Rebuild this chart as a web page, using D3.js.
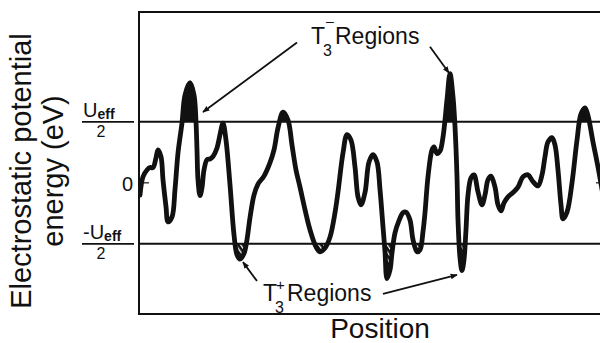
<!DOCTYPE html>
<html><head><meta charset="utf-8">
<script src="https://cdn.jsdelivr.net/npm/d3@7"></script>
<style>html,body{margin:0;padding:0;background:#fff}svg{display:block}text{font-family:"Liberation Sans",Arial,sans-serif;fill:#111}</style>
</head><body><svg id="c" width="600" height="343"></svg>
<script>
// Position (arbitrary units) and electrostatic potential energy (units of Ueff/2)
const position = [0.5,2,4,5.5,7,8.5,9.5,11,12,13.5,14.5,16.5,18,19.5,21.5,23,25.5,27.5,28.5,29,29.5,30.5,31.5,32.5,34,35.5,37,39,40.5,42,43.5,45.5,47.5,49,50.5,52.5,54,55.5,57.5,59.5,62.5,65.5,67.5,69.5,72,74.5,76.5,78.5,80.5,83,85.5,88.5,90.5,93,95.5,98,99.5,102,104,106,108,109.5,111,113,115,117,119,120.5,122,123,124,125.5,126.5,128,130,132,133.5,135.5,137,139,140.5,142,143,144.5,146.5,147.5,149,150.5,152,154,155.5,157,158,159,159.5,160.5,161.5,162.5,163.5,164.5,166,167.5,169.5,171.5,173,174.5,176,178,179.5,181,182.5,184.5,187,189.5,192,194.5,197,199.5,201.5,203,204.5,206.5,208,209.5,211,212,214,216.5,219,221,223,224.5,227,229.5,232];
const energy = [-0.20,0.10,0.21,0.25,0.25,0.41,0.54,0.43,0.05,-0.39,-0.64,-0.56,-0.11,0.49,0.98,1.44,1.64,1.44,1.00,0.54,0.05,-0.21,-0.08,0.21,0.38,0.39,0.43,0.57,0.79,0.98,0.70,-0.03,-0.85,-1.18,-1.25,-1.16,-0.93,-0.57,-0.20,-0.02,0.11,0.33,0.54,0.90,1.16,1.03,0.62,0.21,-0.07,-0.44,-0.77,-1.05,-1.13,-1.07,-0.89,-0.49,-0.15,0.49,0.79,0.70,0.26,-0.23,-0.36,-0.16,0.34,0.46,0.34,-0.11,-0.72,-1.13,-1.57,-1.43,-1.15,-0.82,-0.62,-0.49,-0.48,-0.61,-0.93,-1.13,-1.10,-0.80,-0.49,0.10,0.54,0.59,0.48,0.52,0.75,1.36,1.79,1.41,0.92,0.10,-0.61,-1.23,-1.44,-1.26,-0.77,-0.20,0.08,0.13,-0.15,-0.36,-0.20,0.05,0.11,-0.07,-0.36,-0.46,-0.33,-0.23,-0.16,-0.07,0.10,0.13,0.02,-0.05,0.13,0.43,0.67,0.74,0.62,0.21,-0.36,-0.59,-0.48,0.00,0.70,1.13,1.23,1.10,0.67,0.26,-0.20];
const levels = [1, 0, -1];               // Ueff/2, 0, -Ueff/2
const xDomain = [0, 230.5];
const yDomain = [-2.15, 2.80];
// annotation arrows: [fromPos, fromE, toPos, toE]
const arrowsMinus = [[79,2.30,32,1.16],[145.5,2.23,155,1.80]];
const arrowsPlus  = [[59,-1.61,52,-1.30],[122,-1.82,159,-1.51]];
const labelMinus = [86, 2.28];
const labelPlus  = [62, -1.93];

const data = position.map((p,i)=>({x:p,y:energy[i]}));
const svg = d3.select('#c');
const W = 600;
const x = d3.scaleLinear().domain(xDomain).range([139, 600]);
const y = d3.scaleLinear().domain(yDomain).range([314, 12]);

const defs = svg.append('defs');
const pat = defs.append('pattern').attr('id','hatch').attr('patternUnits','userSpaceOnUse')
  .attr('width',4).attr('height',4).attr('patternTransform','rotate(-35)');
pat.append('rect').attr('width',4).attr('height',4).attr('fill','#111');
pat.append('rect').attr('x',0).attr('y',0).attr('width',1.3).attr('height',4).attr('fill','#fff');
defs.append('clipPath').attr('id','above').append('rect')
  .attr('x',x(xDomain[0])).attr('y',0).attr('width',W).attr('height',y(1));
defs.append('clipPath').attr('id','below').append('rect')
  .attr('x',x(xDomain[0])).attr('y',y(-1)).attr('width',W).attr('height',343-y(-1));
defs.append('clipPath').attr('id','plot').append('rect')
  .attr('x',x(xDomain[0])).attr('y',y(yDomain[1])).attr('width',W).attr('height',y(yDomain[0])-y(yDomain[1]));

const curve = d3.curveCatmullRom.alpha(0.5);
// filled T3- regions
svg.append('path').datum(data).attr('clip-path','url(#above)')
  .attr('d', d3.area().x(d=>x(d.x)).y0(y(1)).y1(d=>y(d.y)).curve(curve))
  .attr('fill','#111');
// hatched T3+ regions
svg.append('path').datum(data).attr('clip-path','url(#below)')
  .attr('d', d3.area().x(d=>x(d.x)).y0(y(-1)).y1(d=>y(d.y)).curve(curve))
  .attr('fill','url(#hatch)');

// level lines
[1,-1].forEach(l=>{
  svg.append('line').attr('x1',x(xDomain[0])).attr('x2',W+5).attr('y1',y(l)).attr('y2',y(l))
    .attr('stroke','#111').attr('stroke-width',2);
  svg.append('line').attr('x1',82).attr('x2',134).attr('y1',y(l)).attr('y2',y(l))
    .attr('stroke','#111').attr('stroke-width',1.8);
});
// zero ticks
svg.append('line').attr('x1',x(xDomain[0])).attr('x2',x(xDomain[0])+10).attr('y1',y(0)).attr('y2',y(0)).attr('stroke','#111').attr('stroke-width',1.2);
svg.append('line').attr('x1',596).attr('x2',606).attr('y1',y(0)).attr('y2',y(0)).attr('stroke','#111').attr('stroke-width',1.2);

// curve
svg.append('path').datum(data).attr('clip-path','url(#plot)')
  .attr('d', d3.line().x(d=>x(d.x)).y(d=>y(d.y)).curve(curve))
  .attr('fill','none').attr('stroke','#111').attr('stroke-width',4.8)
  .attr('stroke-linejoin','round').attr('stroke-linecap','round');

// frame
svg.append('path').attr('d',`M${W+5},${y(yDomain[1])}H${x(xDomain[0])}V${y(yDomain[0])}H${W+5}`)
  .attr('fill','none').attr('stroke','#111').attr('stroke-width',2);

// y tick labels
const tl = svg.append('g');
function ueff(g, base, neg){
  const t = g.append('text').attr('x',83).attr('y',base).attr('font-size',20);
  t.append('tspan').text(neg?'-U':'U');
  t.append('tspan').attr('font-size',14).attr('font-weight','bold').attr('dy',2).text('eff');
  g.append('text').attr('x',101).attr('y',base+20).attr('font-size',16).attr('text-anchor','middle').text('2');
}
ueff(tl, y(1)-5, false);
ueff(tl, y(-1)-5, true);
tl.append('text').attr('x',133).attr('y',y(0)+8).attr('font-size',20).attr('text-anchor','end').text('0');

// axis titles
const yt = svg.append('text').attr('transform','translate(31,171) rotate(-90)').attr('text-anchor','middle').attr('font-size',29);
yt.append('tspan').attr('x',0).attr('y',0).text('Electrostatic potential');
yt.append('tspan').attr('x',0).attr('y',32).text('energy (eV)');
svg.append('text').attr('x',380).attr('y',338).attr('text-anchor','middle').attr('font-size',28).text('Position');

// annotations
defs.append('marker').attr('id','ah').attr('viewBox','0 0 10 10').attr('refX',9).attr('refY',5)
  .attr('markerWidth',7).attr('markerHeight',7).attr('markerUnits','userSpaceOnUse').attr('orient','auto')
  .append('path').attr('d','M0,1L10,5L0,9Z').attr('fill','#111');
arrowsMinus.concat(arrowsPlus).forEach(a=>{
  svg.append('line').attr('x1',x(a[0])).attr('y1',y(a[1])).attr('x2',x(a[2])).attr('y2',y(a[3]))
    .attr('stroke','#111').attr('stroke-width',1.8).attr('marker-end','url(#ah)');
});
function tlabel(pos, sign){
  const g = svg.append('g').attr('transform',`translate(${x(pos[0])},${y(pos[1])})`);
  g.append('text').attr('x',0).attr('y',0).attr('font-size',23).text('T');
  g.append('text').attr('x',12).attr('y',12).attr('font-size',16).text('3');
  g.append('text').attr('x',sign==='+'?13:15).attr('y',sign==='+'?-11:-18).attr('font-size',sign==='+'?15:14).text(sign==='+'?'+':'\u2013');
  g.append('text').attr('x',24).attr('y',0).attr('font-size',23).text('Regions');
}
tlabel(labelMinus,'-');
tlabel(labelPlus,'+');
</script></body></html>
